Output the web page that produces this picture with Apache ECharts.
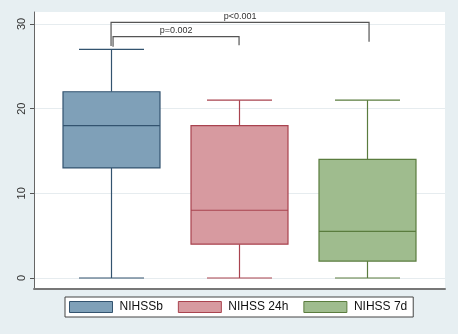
<!DOCTYPE html>
<html>
<head>
<meta charset="utf-8">
<script src="https://cdn.jsdelivr.net/npm/echarts@6/dist/echarts.min.js"></script>
<style>
  html, body { margin: 0; padding: 0; background: #e7eff2; }
  #chart { width: 458px; height: 334px; }
</style>
</head>
<body>
<div id="chart"></div>
<script>
// Groups and their five-number summaries
const groups = ['NIHSSb', 'NIHSS 24h', 'NIHSS 7d'];
const positions = [1, 2, 3];
const minVals = [0, 0, 0];
const q1Vals = [13, 4, 2];
const medianVals = [18, 8, 5.5];
const q3Vals = [22, 18, 14];
const maxVals = [27, 21, 21];

// Y axis tick labels
const yTicks = [0, 10, 20, 30];

// Significance brackets between groups
const bracketFrom = [1, 1];
const bracketTo = [2, 3];
const bracketTop = [28.5, 30.2];
const bracketLeftEnd = [27.3, 27.4];
const bracketRightEnd = [27.5, 27.9];
const bracketText = ['p=0.002', 'p<0.001'];

const fills = ['#7fa0b8', '#d79aa0', '#9fbc8e'];
const strokes = ['#33536f', '#a9434f', '#5a7c3e'];
const FONT = '"Liberation Sans", Arial, sans-serif';

const BOX_W = 97;
const CAP_W = 65;

function boxRenderer(params, api) {
  const x = api.value(0);
  const pMin = api.coord([x, api.value(1)]);
  const pQ1 = api.coord([x, api.value(2)]);
  const pMed = api.coord([x, api.value(3)]);
  const pQ3 = api.coord([x, api.value(4)]);
  const pMax = api.coord([x, api.value(5)]);
  const cx = Math.round(pMed[0]) + 0.5;
  const stroke = strokes[params.seriesIndex];
  const fill = fills[params.seriesIndex];
  const ls = { stroke: stroke, lineWidth: 1.2 };
  return {
    type: 'group',
    children: [
      { type: 'line', shape: { x1: cx, y1: pMax[1], x2: cx, y2: pQ3[1] }, style: ls },
      { type: 'line', shape: { x1: cx, y1: pQ1[1], x2: cx, y2: pMin[1] }, style: ls },
      { type: 'line', shape: { x1: cx - CAP_W / 2, y1: pMax[1], x2: cx + CAP_W / 2, y2: pMax[1] }, style: ls },
      { type: 'line', shape: { x1: cx - CAP_W / 2, y1: pMin[1], x2: cx + CAP_W / 2, y2: pMin[1] }, style: ls },
      { type: 'rect', shape: { x: cx - BOX_W / 2, y: pQ3[1], width: BOX_W, height: pQ1[1] - pQ3[1] },
        style: { fill: fill, stroke: stroke, lineWidth: 1.2 } },
      { type: 'line', shape: { x1: cx - BOX_W / 2, y1: pMed[1], x2: cx + BOX_W / 2, y2: pMed[1] }, style: ls }
    ]
  };
}

function bracketRenderer(params, api) {
  const i = params.dataIndex;
  const a = api.coord([api.value(0), api.value(2)]);
  const b = api.coord([api.value(1), api.value(2)]);
  const aEnd = api.coord([api.value(0), api.value(3)]);
  const bEnd = api.coord([api.value(1), api.value(4)]);
  // the inner bracket sits slightly inside the outer one on the left
  const dxLeft = i === 0 ? 2 : 0;
  const dxRight = i === 0 ? 0 : 2;
  const x1 = a[0] + dxLeft, x2 = b[0] + dxRight;
  const style = { stroke: '#555', lineWidth: 1.2, fill: null };
  return {
    type: 'group',
    children: [
      { type: 'polyline', shape: { points: [[x1, aEnd[1]], [x1, a[1]], [x2, b[1]], [x2, bEnd[1]]] }, style: style },
      { type: 'text', style: { text: bracketText[i], x: (x1 + x2) / 2, y: a[1] - 6,
          align: 'center', verticalAlign: 'middle', fill: '#333', font: '9px ' + FONT } }
    ]
  };
}

const boxSeries = groups.map((name, g) => ({
  name: name,
  type: 'custom',
  xAxisIndex: 1,
  yAxisIndex: 1,
  itemStyle: { color: fills[g], borderColor: strokes[g] },
  renderItem: boxRenderer,
  encode: { x: 0, y: [1, 2, 3, 4, 5] },
  data: [[positions[g], minVals[g], q1Vals[g], medianVals[g], q3Vals[g], maxVals[g]]],
  z: 3
}));

const bracketSeries = {
  type: 'custom',
  xAxisIndex: 1,
  yAxisIndex: 1,
  renderItem: bracketRenderer,
  encode: { x: [0, 1], y: [2, 3, 4] },
  data: bracketFrom.map((f, i) => [f, bracketTo[i], bracketTop[i], bracketLeftEnd[i], bracketRightEnd[i]]),
  silent: true,
  z: 4
};

const chart = echarts.init(document.getElementById('chart'), null, { renderer: 'canvas' });
chart.setOption({
  backgroundColor: '#e7eff2',
  animation: false,
  grid: [
    // frame: white plot area and the outer axis lines
    { left: 34, right: 13, top: 12, bottom: 45, show: true, backgroundColor: '#ffffff', borderWidth: 0 },
    // data area
    { left: 34, right: 13, top: 24, bottom: 56 }
  ],
  xAxis: [
    { gridIndex: 0, type: 'value', min: 0, max: 1,
      axisLine: { show: true, onZero: false, lineStyle: { color: '#777', width: 2 } },
      axisTick: { show: false }, axisLabel: { show: false }, splitLine: { show: false } },
    { gridIndex: 1, type: 'value', min: 0.398, max: 3.609, show: false }
  ],
  yAxis: [
    { gridIndex: 0, type: 'value', min: 0, max: 1,
      axisLine: { show: true, lineStyle: { color: '#666', width: 1 } },
      axisTick: { show: false }, axisLabel: { show: false }, splitLine: { show: false } },
    { gridIndex: 1, type: 'value', min: yTicks[0], max: yTicks[yTicks.length - 1], interval: 10,
      axisLine: { show: false },
      axisTick: { show: true, length: 4, lineStyle: { color: '#555' } },
      axisLabel: { rotate: 90, margin: 7, fontSize: 11, color: '#333', fontFamily: FONT },
      splitLine: { show: true, lineStyle: { color: '#e6ecef', width: 1 } } }
  ],
  legend: {
    left: 65, top: 297,
    itemWidth: 43, itemHeight: 11, itemGap: 15,
    padding: [4, 6, 4, 4],
    borderColor: '#444', borderWidth: 1, backgroundColor: '#ffffff',
    icon: 'rect',
    textStyle: { fontSize: 12, color: '#111', fontFamily: FONT, padding: [0, 0, 0, 2] },
    data: groups.map((name, g) => ({
      name: name,
      itemStyle: { color: fills[g], borderColor: strokes[g], borderWidth: 1 }
    }))
  },
  series: boxSeries.concat([bracketSeries])
});
</script>
</body>
</html>
